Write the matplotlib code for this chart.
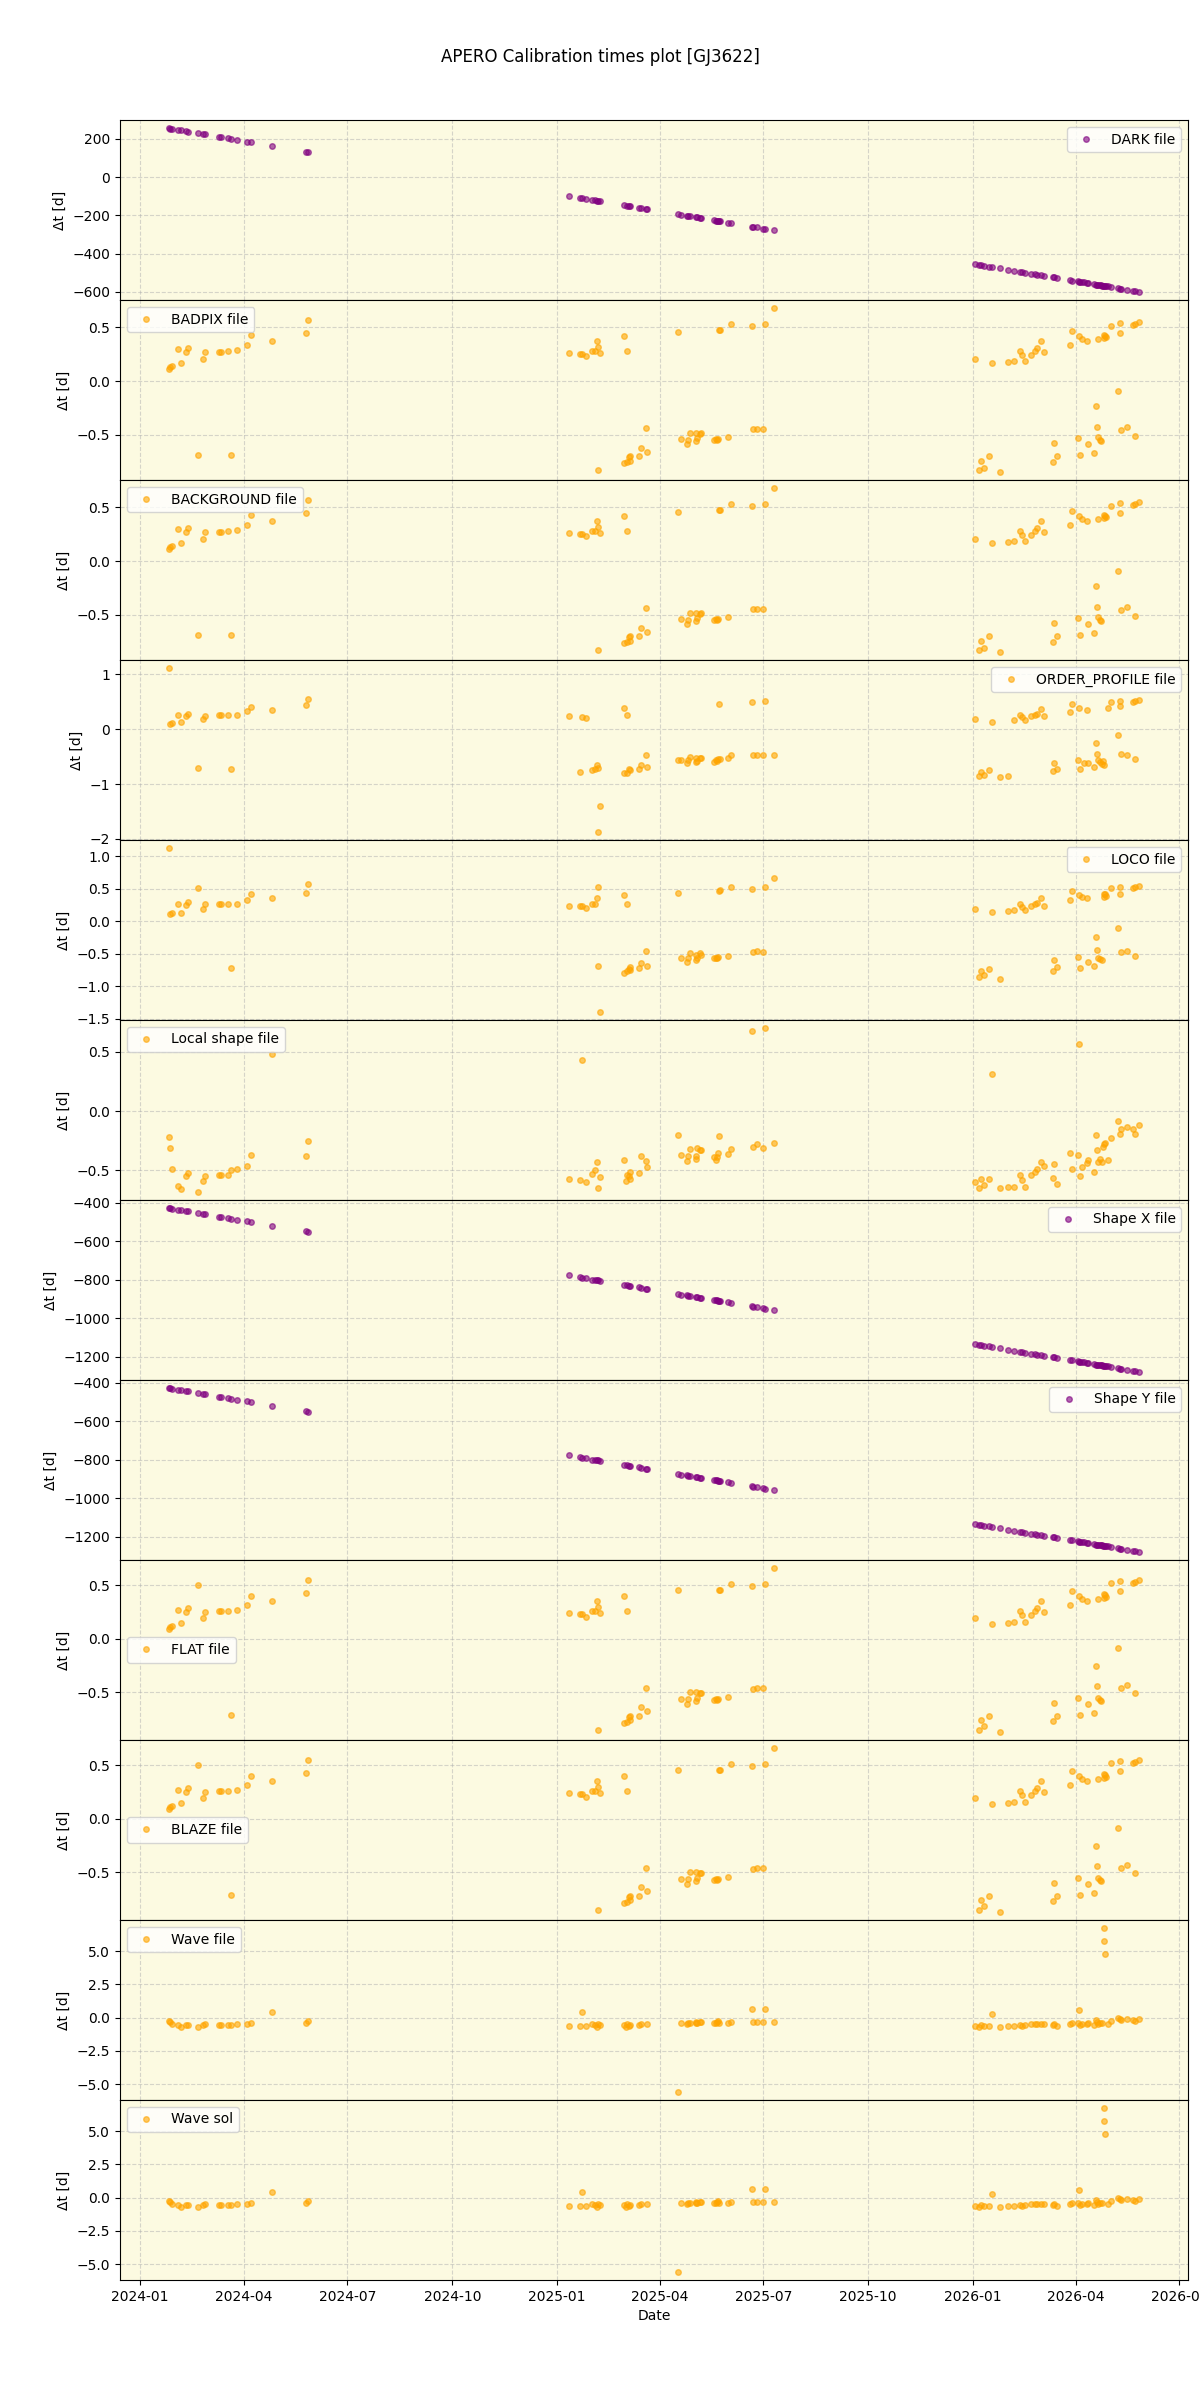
import pandas as pd
import matplotlib
matplotlib.use("Agg")
import matplotlib.pyplot as plt
import matplotlib.dates as mdates

# observation dates (shared by the purple panels)
obs_dates = [
    "2024-01-26", "2024-01-27", "2024-01-29", "2024-02-03", "2024-02-06", "2024-02-10", "2024-02-12",
    "2024-02-21", "2024-02-25", "2024-02-27", "2024-03-10", "2024-03-12", "2024-03-18", "2024-03-21",
    "2024-03-26", "2024-04-04", "2024-04-07", "2024-04-26", "2024-05-26", "2024-05-27",
    "2025-01-11", "2025-01-21", "2025-01-23", "2025-01-26", "2025-02-01", "2025-02-03", "2025-02-05",
    "2025-02-06", "2025-02-08", "2025-03-01", "2025-03-03", "2025-03-05", "2025-03-06", "2025-03-14",
    "2025-03-16", "2025-03-20", "2025-03-21", "2025-04-17", "2025-04-20", "2025-04-25", "2025-04-26",
    "2025-04-28", "2025-05-03", "2025-05-04", "2025-05-06", "2025-05-07", "2025-05-19", "2025-05-20",
    "2025-05-21", "2025-05-22", "2025-05-23", "2025-05-24", "2025-05-31", "2025-06-03", "2025-06-21",
    "2025-06-22", "2025-06-25", "2025-07-01", "2025-07-02", "2025-07-10",
    "2026-01-03", "2026-01-06", "2026-01-08", "2026-01-11", "2026-01-15", "2026-01-18", "2026-01-25",
    "2026-02-01", "2026-02-06", "2026-02-11", "2026-02-13", "2026-02-16", "2026-02-21", "2026-02-24",
    "2026-02-26", "2026-03-02", "2026-03-04", "2026-03-12", "2026-03-13", "2026-03-16", "2026-03-27",
    "2026-03-29", "2026-04-03", "2026-04-04", "2026-04-05", "2026-04-07", "2026-04-08", "2026-04-11",
    "2026-04-12", "2026-04-17", "2026-04-19", "2026-04-20", "2026-04-21", "2026-04-22", "2026-04-23",
    "2026-04-24", "2026-04-25", "2026-04-26", "2026-04-27", "2026-04-28", "2026-04-29", "2026-05-02",
    "2026-05-08", "2026-05-10", "2026-05-11", "2026-05-16", "2026-05-21", "2026-05-23", "2026-05-27",
]

dark_dt = [
    256, 254, 252, 247, 244, 240, 238, 229, 225, 223, 211, 209, 203, 200, 195, 186, 183, 164, 134, 133,
    -98, -108, -110, -113, -119, -121, -123, -124, -126, -147, -149, -151, -152, -160, -162, -166, -167,
    -194, -197, -202, -203, -205, -210, -211, -213, -214, -226, -227, -228, -229, -230, -231, -238, -241,
    -259, -260, -263, -269, -270, -278,
    -456, -459, -461, -464, -468, -471, -478, -485, -490, -495, -497, -500, -505, -508, -510, -514, -516,
    -524, -525, -528, -539, -541, -546, -547, -548, -550, -551, -554, -555, -560, -562, -563, -564, -565,
    -566, -567, -568, -569, -570, -571, -572, -575, -581, -583, -584, -589, -594, -596, -600,
]

shape_dt = [
    -428, -429, -431, -436, -439, -443, -445, -454, -458, -460, -472, -474, -480, -483, -488, -497, -500,
    -519, -549, -550,
    -778, -788, -790, -793, -799, -801, -803, -804, -806, -827, -829, -831, -832, -840, -842, -846, -847,
    -874, -877, -882, -883, -885, -890, -891, -893, -894, -906, -907, -908, -909, -910, -911, -918, -921,
    -939, -940, -943, -949, -950, -958,
    -1135, -1138, -1140, -1143, -1147, -1150, -1157, -1164, -1169, -1174, -1176, -1179, -1184, -1187,
    -1189, -1193, -1195, -1203, -1204, -1207, -1218, -1220, -1225, -1226, -1227, -1229, -1230, -1233,
    -1234, -1239, -1241, -1242, -1243, -1244, -1245, -1246, -1247, -1248, -1249, -1250, -1251, -1254,
    -1260, -1262, -1263, -1268, -1273, -1275, -1279,
]

badpix_dates = [
    "2024-01-26", "2024-01-27", "2024-01-29", "2024-02-03", "2024-02-06", "2024-02-10", "2024-02-12",
    "2024-02-21", "2024-02-25", "2024-02-27", "2024-03-10", "2024-03-12", "2024-03-18", "2024-03-21",
    "2024-03-26", "2024-04-04", "2024-04-07", "2024-04-26", "2024-05-26", "2024-05-27",
    "2025-01-11", "2025-01-21", "2025-01-23", "2025-01-26", "2025-02-01", "2025-02-03", "2025-02-05",
    "2025-02-06", "2025-02-06", "2025-02-08", "2025-03-01", "2025-03-01", "2025-03-03", "2025-03-03",
    "2025-03-05", "2025-03-06", "2025-03-06", "2025-03-14", "2025-03-16", "2025-03-20", "2025-03-21",
    "2025-04-17", "2025-04-20", "2025-04-25", "2025-04-26", "2025-04-28", "2025-05-03", "2025-05-03",
    "2025-05-04", "2025-05-06", "2025-05-07", "2025-05-19", "2025-05-20", "2025-05-21", "2025-05-22",
    "2025-05-23", "2025-05-24", "2025-05-31", "2025-06-03", "2025-06-21", "2025-06-22", "2025-06-25",
    "2025-07-01", "2025-07-02", "2025-07-10",
    "2026-01-03", "2026-01-06", "2026-01-08", "2026-01-11", "2026-01-15", "2026-01-18", "2026-01-25",
    "2026-02-01", "2026-02-06", "2026-02-11", "2026-02-13", "2026-02-16", "2026-02-21", "2026-02-24",
    "2026-02-26", "2026-03-02", "2026-03-04", "2026-03-12", "2026-03-13", "2026-03-16", "2026-03-27",
    "2026-03-29", "2026-04-03", "2026-04-04", "2026-04-05", "2026-04-07", "2026-04-11", "2026-04-12",
    "2026-04-17", "2026-04-19", "2026-04-20", "2026-04-21", "2026-04-21", "2026-04-22", "2026-04-23",
    "2026-04-26", "2026-04-26", "2026-04-27", "2026-04-28", "2026-05-02", "2026-05-08", "2026-05-10",
    "2026-05-10", "2026-05-11", "2026-05-16", "2026-05-21", "2026-05-23", "2026-05-23", "2026-05-27",
]
badpix_dt = [
    0.11, 0.13, 0.14, 0.30, 0.17, 0.27, 0.31, -0.69, 0.21, 0.27, 0.27, 0.27, 0.28, -0.69, 0.29, 0.34,
    0.43, 0.37, 0.45, 0.57,
    0.26, 0.25, 0.25, 0.23, 0.28, 0.28, 0.37, 0.32, -0.83, 0.26, 0.42, -0.765, 0.28, -0.75, -0.71,
    -0.74, -0.70, -0.70, -0.62, -0.435, -0.66, 0.46, -0.54, -0.59, -0.546, -0.48, -0.56, -0.48, -0.53,
    -0.49, -0.485, -0.55, -0.535, -0.55, -0.54, 0.48, 0.48, -0.52, 0.53, 0.51, -0.45, -0.445, -0.445,
    0.53, 0.68,
    0.21, -0.83, -0.74, -0.805, -0.70, 0.17, -0.845, 0.18, 0.19, 0.28, 0.24, 0.185, 0.24, 0.28, 0.31,
    0.37, 0.27, -0.75, -0.58, -0.695, 0.34, 0.47, -0.53, 0.42, -0.685, 0.39, 0.37, -0.59, -0.666, -0.23,
    -0.425, 0.39, -0.525, -0.55, -0.56, 0.43, 0.40, 0.42, 0.41, 0.51, -0.09, 0.54, 0.45, -0.455, -0.43,
    0.52, 0.53, -0.51, 0.55,
]
flat_dt = [
    0.09, 0.11, 0.12, 0.27, 0.15, 0.25, 0.29, 0.50, 0.19, 0.25, 0.26, 0.26, 0.26, -0.71, 0.27, 0.32,
    0.40, 0.35, 0.43, 0.55,
    0.24, 0.23, 0.23, 0.20, 0.26, 0.26, 0.35, 0.30, -0.85, 0.24, 0.40, -0.79, 0.26, -0.78, -0.73,
    -0.76, -0.72, -0.72, -0.64, -0.46, -0.68, 0.46, -0.56, -0.61, -0.56, -0.50, -0.58, -0.50, -0.55,
    -0.51, -0.51, -0.57, -0.56, -0.57, -0.56, 0.46, 0.46, -0.54, 0.51, 0.49, -0.47, -0.46, -0.46,
    0.51, 0.66,
    0.19, -0.85, -0.76, -0.82, -0.72, 0.14, -0.87, 0.15, 0.16, 0.26, 0.22, 0.16, 0.22, 0.26, 0.29,
    0.35, 0.25, -0.77, -0.60, -0.72, 0.32, 0.45, -0.55, 0.40, -0.71, 0.37, 0.35, -0.61, -0.69, -0.25,
    -0.44, 0.37, -0.55, -0.57, -0.58, 0.42, 0.38, 0.41, 0.39, 0.52, -0.09, 0.54, 0.45, -0.46, -0.43,
    0.52, 0.53, -0.51, 0.55,
]

op_dates = [
    "2024-01-26", "2024-01-27", "2024-01-29", "2024-02-03", "2024-02-06", "2024-02-10", "2024-02-12",
    "2024-02-21", "2024-02-25", "2024-02-27", "2024-03-10", "2024-03-12", "2024-03-18", "2024-03-21",
    "2024-03-26", "2024-04-04", "2024-04-07", "2024-04-26", "2024-05-26", "2024-05-27",
    "2025-01-11", "2025-01-21", "2025-01-23", "2025-01-26", "2025-02-01", "2025-02-03", "2025-02-05",
    "2025-02-06", "2025-02-06", "2025-02-08", "2025-03-01", "2025-03-01", "2025-03-03", "2025-03-03",
    "2025-03-05", "2025-03-06", "2025-03-14", "2025-03-16", "2025-03-20", "2025-03-21", "2025-04-17",
    "2025-04-20", "2025-04-25", "2025-04-26", "2025-04-28", "2025-05-03", "2025-05-03", "2025-05-04",
    "2025-05-06", "2025-05-07", "2025-05-19", "2025-05-20", "2025-05-21", "2025-05-22", "2025-05-23",
    "2025-05-24", "2025-05-31", "2025-06-03", "2025-06-21", "2025-06-22", "2025-06-25", "2025-07-01",
    "2025-07-02", "2025-07-10",
    "2026-01-03", "2026-01-06", "2026-01-08", "2026-01-11", "2026-01-15", "2026-01-18", "2026-01-25",
    "2026-02-01", "2026-02-06", "2026-02-11", "2026-02-13", "2026-02-16", "2026-02-21", "2026-02-24",
    "2026-02-26", "2026-03-02", "2026-03-04", "2026-03-12", "2026-03-13", "2026-03-16", "2026-03-27",
    "2026-03-29", "2026-04-03", "2026-04-04", "2026-04-05", "2026-04-08", "2026-04-11", "2026-04-12",
    "2026-04-17", "2026-04-19", "2026-04-20", "2026-04-21", "2026-04-22", "2026-04-24", "2026-04-25",
    "2026-04-26", "2026-04-29", "2026-05-02", "2026-05-08", "2026-05-10", "2026-05-10", "2026-05-11",
    "2026-05-16", "2026-05-21", "2026-05-23", "2026-05-23", "2026-05-27",
]
op_dt = [
    1.11, 0.10, 0.115, 0.25, 0.13, 0.24, 0.28, -0.71, 0.18, 0.24, 0.25, 0.25, 0.25, -0.73, 0.25, 0.33,
    0.40, 0.35, 0.44, 0.55,
    0.24, -0.78, 0.22, 0.21, -0.75, -0.73, -0.65, -0.71, -1.87, -1.40, 0.38, -0.80, 0.25, -0.79, -0.73,
    -0.75, -0.72, -0.65, -0.47, -0.69, -0.56, -0.56, -0.62, -0.56, -0.50, -0.60, -0.53, -0.58, -0.52,
    -0.53, -0.59, -0.56, -0.58, -0.55, 0.46, -0.55, -0.53, -0.48, 0.49, -0.48, -0.47, -0.47, 0.51,
    -0.47,
    0.18, -0.86, -0.78, -0.83, -0.74, 0.13, -0.87, -0.85, 0.17, 0.26, 0.22, 0.16, 0.24, 0.26, 0.28,
    0.36, 0.24, -0.77, -0.62, -0.72, 0.32, 0.46, -0.56, 0.39, -0.73, -0.62, 0.35, -0.61, -0.69, -0.25,
    -0.45, -0.56, -0.59, -0.63, -0.58, -0.65, 0.39, 0.49, -0.10, 0.52, 0.42, -0.46, -0.47, 0.50, 0.52,
    -0.55, 0.53,
]

loco_dates = [
    "2024-01-26", "2024-01-27", "2024-01-29", "2024-02-03", "2024-02-06", "2024-02-10", "2024-02-12",
    "2024-02-21", "2024-02-25", "2024-02-27", "2024-03-10", "2024-03-12", "2024-03-18", "2024-03-21",
    "2024-03-26", "2024-04-04", "2024-04-07", "2024-04-26", "2024-05-26", "2024-05-27",
    "2025-01-11", "2025-01-21", "2025-01-23", "2025-01-26", "2025-02-01", "2025-02-03", "2025-02-05",
    "2025-02-06", "2025-02-06", "2025-02-08", "2025-03-01", "2025-03-01", "2025-03-03", "2025-03-03",
    "2025-03-05", "2025-03-06", "2025-03-06", "2025-03-14", "2025-03-16", "2025-03-20", "2025-03-21",
    "2025-04-17", "2025-04-20", "2025-04-25", "2025-04-26", "2025-04-28", "2025-05-03", "2025-05-03",
    "2025-05-04", "2025-05-06", "2025-05-07", "2025-05-19", "2025-05-20", "2025-05-21", "2025-05-22",
    "2025-05-23", "2025-05-24", "2025-05-31", "2025-06-03", "2025-06-21", "2025-06-22", "2025-06-25",
    "2025-07-01", "2025-07-02", "2025-07-10",
    "2026-01-03", "2026-01-06", "2026-01-08", "2026-01-11", "2026-01-15", "2026-01-18", "2026-01-25",
    "2026-02-01", "2026-02-06", "2026-02-11", "2026-02-13", "2026-02-16", "2026-02-21", "2026-02-24",
    "2026-02-26", "2026-03-02", "2026-03-04", "2026-03-12", "2026-03-13", "2026-03-16", "2026-03-27",
    "2026-03-29", "2026-04-03", "2026-04-04", "2026-04-05", "2026-04-07", "2026-04-11", "2026-04-12",
    "2026-04-17", "2026-04-19", "2026-04-20", "2026-04-21", "2026-04-22", "2026-04-24", "2026-04-26",
    "2026-04-26", "2026-04-27", "2026-04-28", "2026-05-02", "2026-05-08", "2026-05-10", "2026-05-10",
    "2026-05-11", "2026-05-16", "2026-05-21", "2026-05-23", "2026-05-23", "2026-05-27",
]
loco_dt = [
    1.12, 0.11, 0.12, 0.26, 0.13, 0.25, 0.29, 0.505, 0.19, 0.26, 0.26, 0.26, 0.26, -0.72, 0.26, 0.32,
    0.41, 0.35, 0.44, 0.57,
    0.23, 0.23, 0.23, 0.20, 0.26, 0.26, 0.35, -0.69, 0.52, -1.39, 0.40, -0.79, 0.26, -0.77, -0.73,
    -0.75, -0.71, -0.72, -0.64, -0.46, -0.69, 0.44, -0.57, -0.62, -0.56, -0.49, -0.59, -0.52, -0.56,
    -0.49, -0.52, -0.57, -0.56, -0.57, -0.55, 0.46, 0.48, -0.54, 0.52, 0.49, -0.47, -0.46, -0.47,
    0.52, 0.66,
    0.18, -0.86, -0.765, -0.83, -0.73, 0.14, -0.88, 0.15, 0.17, 0.26, 0.22, 0.17, 0.23, 0.26, 0.28,
    0.35, 0.24, -0.765, -0.60, -0.71, 0.32, 0.46, -0.55, 0.40, -0.72, 0.37, 0.35, -0.62, -0.69, -0.245,
    -0.44, -0.56, -0.58, -0.59, 0.41, 0.37, 0.42, 0.39, 0.505, -0.11, 0.53, 0.42, -0.47, -0.45, 0.51,
    0.52, -0.54, 0.54,
]

local_dates = [
    "2024-01-26", "2024-01-27", "2024-01-29", "2024-02-03", "2024-02-06", "2024-02-10", "2024-02-12",
    "2024-02-21", "2024-02-25", "2024-02-27", "2024-03-10", "2024-03-12", "2024-03-18", "2024-03-21",
    "2024-03-26", "2024-04-04", "2024-04-07", "2024-04-26", "2024-05-26", "2024-05-27",
    "2025-01-11", "2025-01-21", "2025-01-23", "2025-01-26", "2025-02-01", "2025-02-03", "2025-02-05",
    "2025-02-06", "2025-02-08", "2025-03-01", "2025-03-02", "2025-03-03", "2025-03-05", "2025-03-06",
    "2025-03-06", "2025-03-14", "2025-03-16", "2025-03-20", "2025-03-21", "2025-04-17", "2025-04-20",
    "2025-04-25", "2025-04-26", "2025-04-28", "2025-05-03", "2025-05-03", "2025-05-04", "2025-05-06",
    "2025-05-07", "2025-05-19", "2025-05-20", "2025-05-21", "2025-05-22", "2025-05-23", "2025-05-31",
    "2025-06-03", "2025-06-21", "2025-06-22", "2025-06-25", "2025-07-01", "2025-07-02", "2025-07-10",
    "2026-01-03", "2026-01-06", "2026-01-08", "2026-01-11", "2026-01-15", "2026-01-18", "2026-01-25",
    "2026-02-01", "2026-02-06", "2026-02-11", "2026-02-13", "2026-02-16", "2026-02-21", "2026-02-24",
    "2026-02-26", "2026-03-02", "2026-03-04", "2026-03-12", "2026-03-13", "2026-03-16", "2026-03-27",
    "2026-03-29", "2026-04-03", "2026-04-04", "2026-04-05", "2026-04-07", "2026-04-11", "2026-04-12",
    "2026-04-17", "2026-04-19", "2026-04-20", "2026-04-21", "2026-04-22", "2026-04-24", "2026-04-25",
    "2026-04-26", "2026-04-27", "2026-04-29", "2026-05-02", "2026-05-08", "2026-05-10", "2026-05-11",
    "2026-05-16", "2026-05-21", "2026-05-23", "2026-05-27",
]
local_dt = [
    -0.22, -0.31, -0.49, -0.63, -0.66, -0.55, -0.52, -0.68, -0.585, -0.55, -0.54, -0.54, -0.54, -0.50,
    -0.485, -0.46, -0.37, 0.48, -0.38, -0.25,
    -0.57, -0.58, 0.43, -0.60, -0.53, -0.50, -0.43, -0.65, -0.555, -0.41, -0.59, -0.535, -0.55, -0.57,
    -0.51, -0.52, -0.375, -0.42, -0.47, -0.20, -0.37, -0.42, -0.38, -0.32, -0.40, -0.375, -0.31, -0.33,
    -0.33, -0.39, -0.41, -0.39, -0.35, -0.21, -0.36, -0.32, 0.68, -0.30, -0.28, -0.31, 0.70, -0.27,
    -0.60, -0.65, -0.57, -0.62, -0.57, 0.31, -0.65, -0.64, -0.64, -0.54, -0.58, -0.64, -0.535, -0.51,
    -0.49, -0.43, -0.46, -0.56, -0.445, -0.61, -0.35, -0.485, -0.37, 0.57, -0.55, -0.47, -0.44, -0.41,
    -0.51, -0.20, -0.33, -0.43, -0.40, -0.43, -0.30, -0.28, -0.27, -0.41, -0.23, -0.08, -0.19, -0.15,
    -0.13, -0.15, -0.19, -0.12,
]

wave_dates = [
    "2024-01-26", "2024-01-27", "2024-01-29", "2024-02-03", "2024-02-06", "2024-02-10", "2024-02-12",
    "2024-02-21", "2024-02-25", "2024-02-27", "2024-03-10", "2024-03-12", "2024-03-18", "2024-03-21",
    "2024-03-26", "2024-04-04", "2024-04-07", "2024-04-26", "2024-05-26", "2024-05-27",
    "2025-01-11", "2025-01-21", "2025-01-23", "2025-01-26", "2025-02-01", "2025-02-03", "2025-02-05",
    "2025-02-06", "2025-02-08", "2025-03-01", "2025-03-02", "2025-03-03", "2025-03-05", "2025-03-06",
    "2025-03-14", "2025-03-16", "2025-03-21", "2025-04-17", "2025-04-20", "2025-04-25", "2025-04-26",
    "2025-04-28", "2025-05-03", "2025-05-03", "2025-05-04", "2025-05-06", "2025-05-07", "2025-05-19",
    "2025-05-20", "2025-05-21", "2025-05-22", "2025-05-23", "2025-05-31", "2025-06-03", "2025-06-21",
    "2025-06-22", "2025-06-25", "2025-07-01", "2025-07-02", "2025-07-10",
    "2026-01-03", "2026-01-06", "2026-01-08", "2026-01-11", "2026-01-15", "2026-01-18", "2026-01-25",
    "2026-02-01", "2026-02-06", "2026-02-11", "2026-02-13", "2026-02-16", "2026-02-21", "2026-02-24",
    "2026-02-26", "2026-03-02", "2026-03-04", "2026-03-12", "2026-03-13", "2026-03-16", "2026-03-27",
    "2026-03-29", "2026-04-03", "2026-04-04", "2026-04-05", "2026-04-07", "2026-04-11", "2026-04-12",
    "2026-04-17", "2026-04-19", "2026-04-20", "2026-04-21", "2026-04-22", "2026-04-24", "2026-04-26",
    "2026-04-26", "2026-04-27", "2026-04-29", "2026-05-02", "2026-05-08", "2026-05-10", "2026-05-11",
    "2026-05-16", "2026-05-21", "2026-05-23", "2026-05-27",
]
wave_dt = [
    -0.22, -0.33, -0.48, -0.55, -0.70, -0.55, -0.55, -0.70, -0.55, -0.48, -0.55, -0.55, -0.55, -0.55,
    -0.48, -0.48, -0.38, 0.43, -0.38, -0.22,
    -0.62, -0.62, 0.43, -0.62, -0.48, -0.55, -0.70, -0.48, -0.55, -0.55, -0.70, -0.48, -0.62, -0.55,
    -0.55, -0.48, -0.48, -5.57, -0.38, -0.48, -0.38, -0.38, -0.38, -0.30, -0.38, -0.30, -0.30, -0.38,
    -0.38, -0.30, -0.22, -0.38, -0.38, -0.30, 0.65, -0.30, -0.30, -0.30, 0.65, -0.30,
    -0.62, -0.70, -0.55, -0.62, -0.62, 0.28, -0.70, -0.62, -0.62, -0.55, -0.62, -0.55, -0.48, -0.48,
    -0.48, -0.48, -0.48, -0.55, -0.48, -0.62, -0.48, -0.38, -0.38, 0.58, -0.55, -0.48, -0.48, -0.38,
    -0.55, -0.18, -0.30, -0.48, -0.38, -0.38, 6.72, 5.78, 4.78, -0.48, -0.22, -0.05, -0.12, -0.18,
    -0.12, -0.18, -0.22, -0.12,
]

# panel order: label, dates, values, colour, legend position
panels = [
    ("DARK file", obs_dates, dark_dt, "purple", "upper right"),
    ("BADPIX file", badpix_dates, badpix_dt, "orange", "upper left"),
    ("BACKGROUND file", badpix_dates, badpix_dt, "orange", "upper left"),
    ("ORDER_PROFILE file", op_dates, op_dt, "orange", "upper right"),
    ("LOCO file", loco_dates, loco_dt, "orange", "upper right"),
    ("Local shape file", local_dates, local_dt, "orange", "upper left"),
    ("Shape X file", obs_dates, shape_dt, "purple", "upper right"),
    ("Shape Y file", obs_dates, shape_dt, "purple", "upper right"),
    ("FLAT file", badpix_dates, flat_dt, "orange", "center left"),
    ("BLAZE file", badpix_dates, flat_dt, "orange", "center left"),
    ("Wave file", wave_dates, wave_dt, "orange", "upper left"),
    ("Wave sol", wave_dates, wave_dt, "orange", "upper left"),
]

fig, axes = plt.subplots(len(panels), 1, figsize=(12, 24), sharex=True)
fig.subplots_adjust(left=0.1, right=0.99, top=0.95, bottom=0.05, hspace=0)

for ax, (label, dates, values, colour, loc) in zip(axes, panels):
    ax.plot(pd.to_datetime(dates), values, "o", color=colour, alpha=0.6, ms=4, label=label)
    ax.set_facecolor("#fcfae1")
    ax.grid(True, linestyle="--", alpha=0.5)
    ax.set_ylabel("Δt [d]")
    ax.legend(loc=loc)

axes[-1].xaxis.set_major_locator(mdates.MonthLocator(bymonth=[1, 4, 7, 10]))
axes[-1].xaxis.set_major_formatter(mdates.DateFormatter("%Y-%m"))
axes[-1].set_xlabel("Date")

fig.suptitle("APERO Calibration times plot [GJ3622]")
fig.savefig("out.png", dpi=100)
